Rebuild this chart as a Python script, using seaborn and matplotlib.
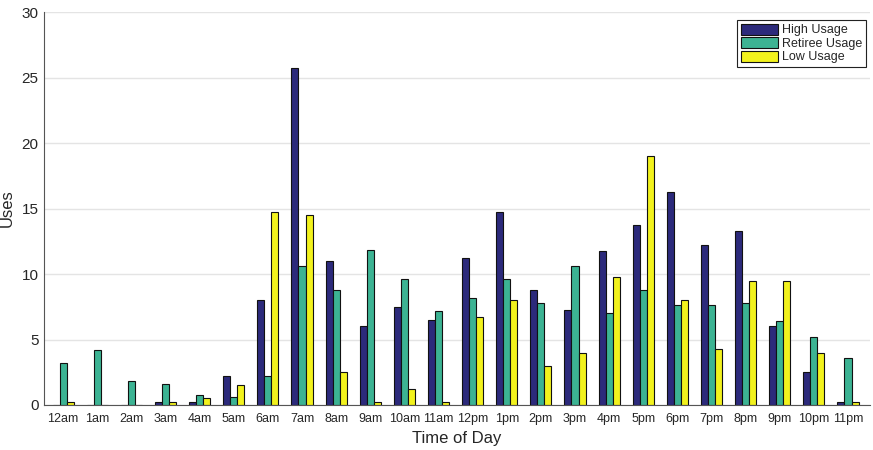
import pandas as pd
import numpy as np
import matplotlib
matplotlib.use("Agg")
import matplotlib.pyplot as plt
import seaborn as sns

# data
hours = ["12am", "1am", "2am", "3am", "4am", "5am", "6am", "7am", "8am", "9am", "10am", "11am",
         "12pm", "1pm", "2pm", "3pm", "4pm", "5pm", "6pm", "7pm", "8pm", "9pm", "10pm", "11pm"]
high = [0, 0, 0, 0.25, 0.25, 2.25, 8.0, 25.75, 11.0, 6.0, 7.5, 6.5,
        11.25, 14.75, 8.75, 7.25, 11.75, 13.75, 16.25, 12.25, 13.25, 6.0, 2.5, 0.25]
retiree = [3.2, 4.2, 1.8, 1.6, 0.8, 0.6, 2.2, 10.6, 8.8, 11.8, 9.6, 7.2,
           8.2, 9.6, 7.8, 10.6, 7.0, 8.8, 7.6, 7.6, 7.8, 6.4, 5.2, 3.6]
low = [0.25, 0, 0, 0.25, 0.5, 1.5, 14.75, 14.5, 2.5, 0.25, 1.25, 0.25,
       6.75, 8.0, 3.0, 4.0, 9.75, 19.0, 8.0, 4.25, 9.5, 9.5, 4.0, 0.25]
groups = ["High Usage", "Retiree Usage", "Low Usage"]
colors = ["#2c2a7b", "#3cb393", "#f2f21d"]

df = pd.DataFrame({"hour": hours * 3,
                   "uses": high + retiree + low,
                   "group": np.repeat(groups, len(hours))})

sns.set_style("white")
plt.rcParams["font.family"] = ["Liberation Sans", "DejaVu Sans"]

fig = plt.figure(figsize=(8.73, 4.5), dpi=100)
ax = fig.add_axes([0.0504, 0.1, 0.946, 0.8733])
sns.barplot(data=df, x="hour", y="uses", hue="group", order=hours, hue_order=groups,
            palette=colors, saturation=1, width=0.62, gap=0, edgecolor="#111111",
            linewidth=0.8, errorbar=None, ax=ax)

ax.set_xlim(-0.56, 23.64)
ax.set_ylim(0, 30)
ax.set_yticks([0, 5, 10, 15, 20, 25, 30])
ax.yaxis.grid(True, color="#e4e4e4", linewidth=1)
ax.set_axisbelow(True)
ax.tick_params(axis="y", direction="in", length=5, labelsize=11, color="#444444", pad=4)
ax.tick_params(axis="x", length=0, labelsize=9, pad=6)
for s in ["top", "right"]:
    ax.spines[s].set_visible(False)
ax.spines["left"].set_color("#555555")
ax.spines["bottom"].set_color("#555555")
ax.set_xlabel("Time of Day", fontsize=12, labelpad=4)
ax.set_ylabel("Uses", fontsize=12)
ax.yaxis.set_label_coords(-0.036, 0.5)

leg = ax.legend(loc="upper right", bbox_to_anchor=(0.9955, 0.98), fontsize=9,
                frameon=True, fancybox=False, edgecolor="#222222", framealpha=1,
                handlelength=3.0, handleheight=1.0, handletextpad=0.3,
                labelspacing=0.05, borderpad=0.3, borderaxespad=0)
leg.get_frame().set_linewidth(0.8)

fig.savefig("out.png", dpi=100)
